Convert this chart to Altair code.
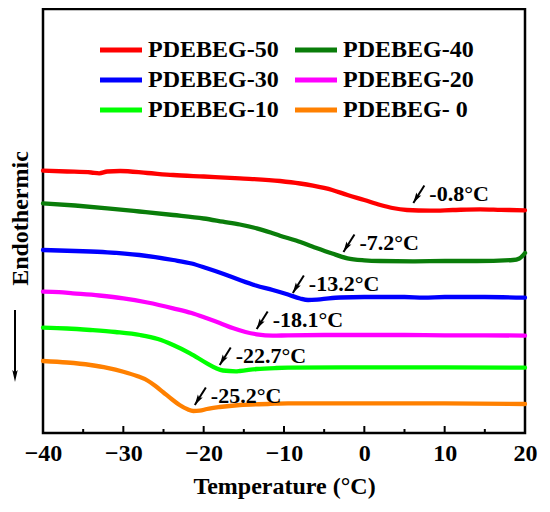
import altair as alt
import pandas as pd

# ---- data ----
series_names = ["PDEBEG-50", "PDEBEG-40", "PDEBEG-30", "PDEBEG-20", "PDEBEG-10", "PDEBEG- 0"]
series_colors = ["#ff0000", "#0a7d0a", "#0000ff", "#ff00ff", "#00ff00", "#ff8000"]

red_T = [-40, -37, -34, -33, -32, -30.4, -27, -23.8, -20, -15.5, -10.5, -8, -6.4, -4, -2.1, 0, 2, 3.5, 5.3, 8.2, 11, 14.4, 17, 20]
red_v = [2.623, 2.615, 2.605, 2.597, 2.615, 2.62, 2.60, 2.58, 2.565, 2.547, 2.52, 2.495, 2.473, 2.43, 2.38, 2.33, 2.28, 2.25, 2.23, 2.223, 2.23, 2.237, 2.232, 2.227]

dgreen_T = [-40, -36, -32, -28, -23.8, -20, -17.6, -15.5, -13.4, -11.5, -10.5, -8.5, -6.4, -4, -2.1, 0, 2, 6, 10.3, 14, 18.5, 19.3, 20]
dgreen_v = [2.297, 2.275, 2.247, 2.215, 2.18, 2.145, 2.113, 2.085, 2.047, 2.0, 1.973, 1.925, 1.863, 1.795, 1.747, 1.727, 1.72, 1.717, 1.72, 1.72, 1.73, 1.745, 1.80]

blue_T = [-40, -36, -32, -28, -23.8, -21.5, -19.6, -17.5, -15.5, -13.5, -11.4, -9.5, -8, -7, -5.5, -3, 0, 5, 7.4, 10, 15, 20]
blue_v = [1.83, 1.82, 1.807, 1.78, 1.73, 1.695, 1.647, 1.59, 1.53, 1.475, 1.43, 1.385, 1.345, 1.33, 1.337, 1.355, 1.36, 1.36, 1.353, 1.36, 1.36, 1.353]

mag_T = [-40, -38, -36.3, -33, -30, -27, -23.8, -21.5, -19.6, -18, -16.3, -14.8, -13.4, -11.4, -9.5, -5, 0, 5, 10, 15, 20]
mag_v = [1.413, 1.408, 1.397, 1.375, 1.347, 1.305, 1.247, 1.20, 1.147, 1.10, 1.047, 1.01, 0.987, 0.973, 0.977, 0.98, 0.98, 0.98, 0.977, 0.977, 0.973]

lgreen_T = [-40, -37, -34.1, -31, -27.9, -25.7, -23.8, -21.7, -19.6, -18.5, -17.6, -16, -15.5, -13.4, -11, -9.5, 0, 10, 20]
lgreen_v = [1.053, 1.045, 1.03, 1.01, 0.98, 0.94, 0.88, 0.797, 0.697, 0.65, 0.625, 0.617, 0.62, 0.64, 0.65, 0.653, 0.657, 0.657, 0.653]

orange_T = [-40, -37, -34.1, -32, -30, -28.3, -27, -26, -25, -24, -23, -22, -21.3, -20.5, -19.6, -18, -15.5, -12, -9.5, 0, 10, 20]
orange_v = [0.72, 0.705, 0.68, 0.652, 0.613, 0.57, 0.525, 0.47, 0.405, 0.34, 0.28, 0.237, 0.22, 0.223, 0.24, 0.26, 0.28, 0.29, 0.297, 0.297, 0.297, 0.29]

# glass-transition annotations: arrow tip (temperature, signal) and label
ann_labels = ["-0.8\u00b0C", "-7.2\u00b0C", "-13.2\u00b0C", "-18.1\u00b0C", "-22.7\u00b0C", "-25.2\u00b0C"]
ann_T = [6.1, -2.6, -8.9, -13.4, -18.0, -21.1]
ann_v = [2.30, 1.81, 1.40, 1.04, 0.68, 0.28]

x_major = [-40, -30, -20, -10, 0, 10, 20]
x_minor = [-35, -25, -15, -5, 5, 15]

# ---- build tables ----
all_T = [red_T, dgreen_T, blue_T, mag_T, lgreen_T, orange_T]
all_v = [red_v, dgreen_v, blue_v, mag_v, lgreen_v, orange_v]
rows = []
for name, Ts, vs in zip(series_names, all_T, all_v):
    for t, v in zip(Ts, vs):
        rows.append({"series": name, "T": t, "v": v})
curves = pd.DataFrame(rows)
ann = pd.DataFrame({"label": ann_labels, "T": ann_T, "v": ann_v})
major = pd.DataFrame({"T": x_major})
minor = pd.DataFrame({"T": x_minor})

W, H = 482, 424
FONT = "Liberation Serif"

xscale = alt.Scale(domain=[-40, 20], nice=False, zero=False)
yscale = alt.Scale(domain=[0, 4.24], nice=False, zero=False)

lines = alt.Chart(curves).mark_line(strokeWidth=4.3, interpolate="monotone", strokeCap="round").encode(
    x=alt.X("T:Q", scale=xscale,
            axis=alt.Axis(title="Temperature (\u00b0C)", values=x_major, ticks=False, domain=False,
                          grid=False, labelFont=FONT, labelFontSize=24, labelFontWeight="bold",
                          labelColor="black", labelPadding=8, titleFont=FONT, titleFontSize=24,
                          titleFontWeight="bold", titleColor="black", titleBaseline="alphabetic",
                          titleY=60, labelFlush=False)),
    y=alt.Y("v:Q", scale=yscale,
            axis=alt.Axis(title="Endothermic", labels=False, ticks=False, domain=False, grid=False,
                          titleFont=FONT, titleFontSize=24, titleFontWeight="bold", titleColor="black",
                          titleAngle=270, titleBaseline="alphabetic", titleX=-16, titleY=209,
                          titleAlign="center")),
    color=alt.Color("series:N", scale=alt.Scale(domain=series_names, range=series_colors),
                    sort=series_names,
                    legend=alt.Legend(title=None, orient="none", legendX=45, legendY=29, columns=2,
                                      direction="horizontal",
                                      symbolType="M0,0L10.5,0", symbolSize=64, symbolStrokeWidth=5,
                                      labelFont=FONT, labelFontSize=24, labelFontWeight="bold",
                                      labelColor="black", labelOffset=36, columnPadding=4,
                                      rowPadding=6, labelLimit=400)),
    detail="series:N",
)

major_ticks = alt.Chart(major).mark_rule(color="black", strokeWidth=2).encode(
    x=alt.X("T:Q", scale=xscale), y=alt.value(H - 7), y2=alt.value(H))
minor_ticks = alt.Chart(minor).mark_rule(color="black", strokeWidth=2).encode(
    x=alt.X("T:Q", scale=xscale), y=alt.value(H - 4), y2=alt.value(H))

arrow_lines = alt.Chart(ann).mark_rule(color="black", strokeWidth=2, x2Offset=11, y2Offset=-17.5).encode(
    x=alt.X("T:Q", scale=xscale), y=alt.Y("v:Q", scale=yscale),
    x2="T:Q", y2="v:Q")
arrow_heads = alt.Chart(ann).mark_point(shape="M0,-1L0.55,1L0,0.6L-0.55,1Z", size=110, angle=212,
                                        filled=True, color="black", opacity=1, strokeWidth=0,
                                        xOffset=2.7, yOffset=-4.5).encode(
    x=alt.X("T:Q", scale=xscale), y=alt.Y("v:Q", scale=yscale))
ann_text = alt.Chart(ann).mark_text(font=FONT, fontSize=22, fontWeight="bold", color="black",
                                    align="left", baseline="middle", dx=16, dy=-9).encode(
    x=alt.X("T:Q", scale=xscale), y=alt.Y("v:Q", scale=yscale), text="label:N")

# downward arrow beside the y-axis title
yarrow_line = alt.Chart(major.head(1)).mark_rule(color="black", strokeWidth=2).encode(
    x=alt.value(-28), y=alt.value(301), y2=alt.value(366))
yarrow_head = alt.Chart(major.head(1)).mark_point(shape="M0,-1L0.45,1L0,0.6L-0.45,1Z", size=144, angle=180,
                                                  filled=True, color="black", opacity=1, strokeWidth=0).encode(
    x=alt.value(-28), y=alt.value(367))

chart = alt.layer(lines, major_ticks, minor_ticks, arrow_lines, arrow_heads, ann_text,
                  yarrow_line, yarrow_head).properties(
    width=W, height=H,
    background="white",
    autosize=alt.AutoSizeParams(type="none"),
    padding={"left": 35, "top": 1, "right": 15, "bottom": 70},
).configure(font=FONT).configure_view(stroke="black", strokeWidth=2.5)

chart.save("out.html", embed_options={"renderer": "svg", "actions": False})
